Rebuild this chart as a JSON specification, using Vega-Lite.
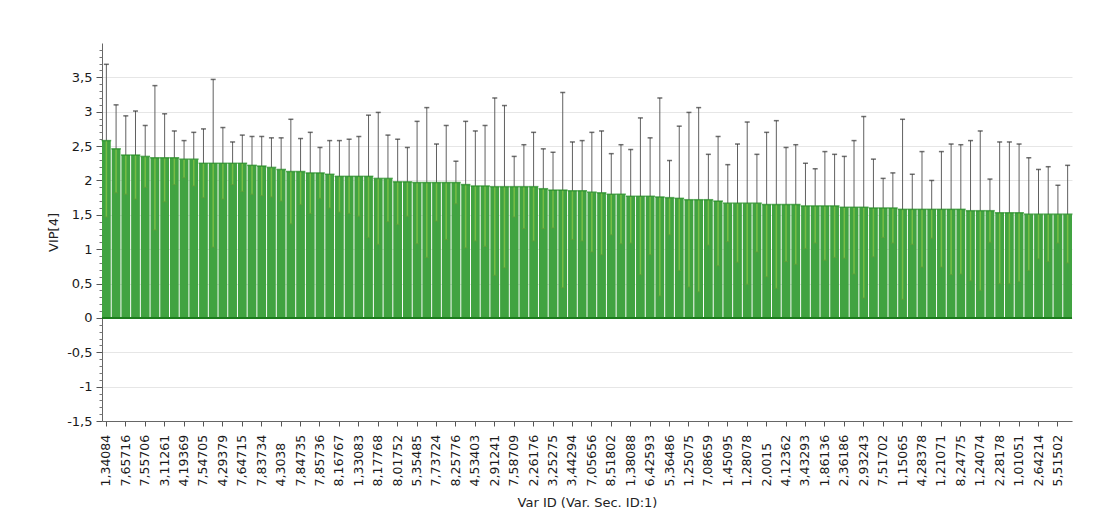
{
  "$schema": "https://vega.github.io/schema/vega-lite/v6.json",
  "width": 970,
  "height": 378,
  "autosize": "none",
  "padding": {"left": 102, "top": 43, "right": 24, "bottom": 107},
  "background": "white",
  "config": {"view": {"stroke": null}, "font": "DejaVu Sans"},
  "resolve": {"axis": {"y": "independent"}},
  "data": {"values": [
    {"id":"1,34084","vip":2.58,"hi":3.69,"lo":1.47},
    {"id":"v002","vip":2.46,"hi":3.10,"lo":1.82},
    {"id":"7,65716","vip":2.37,"hi":2.94,"lo":1.80},
    {"id":"v004","vip":2.37,"hi":3.01,"lo":1.73},
    {"id":"7,55706","vip":2.35,"hi":2.80,"lo":1.90},
    {"id":"v006","vip":2.33,"hi":3.38,"lo":1.28},
    {"id":"3,11261","vip":2.33,"hi":2.97,"lo":1.69},
    {"id":"v008","vip":2.33,"hi":2.72,"lo":1.94},
    {"id":"4,19369","vip":2.31,"hi":2.58,"lo":2.04},
    {"id":"v010","vip":2.31,"hi":2.70,"lo":1.92},
    {"id":"7,54705","vip":2.25,"hi":2.75,"lo":1.75},
    {"id":"v012","vip":2.25,"hi":3.47,"lo":1.03},
    {"id":"4,29379","vip":2.25,"hi":2.77,"lo":1.73},
    {"id":"v014","vip":2.25,"hi":2.56,"lo":1.94},
    {"id":"7,64715","vip":2.25,"hi":2.66,"lo":1.84},
    {"id":"v016","vip":2.22,"hi":2.64,"lo":1.80},
    {"id":"7,83734","vip":2.21,"hi":2.64,"lo":1.78},
    {"id":"v018","vip":2.19,"hi":2.62,"lo":1.76},
    {"id":"4,3038","vip":2.16,"hi":2.62,"lo":1.70},
    {"id":"v020","vip":2.13,"hi":2.89,"lo":1.37},
    {"id":"7,84735","vip":2.13,"hi":2.61,"lo":1.65},
    {"id":"v022","vip":2.11,"hi":2.70,"lo":1.52},
    {"id":"7,85736","vip":2.11,"hi":2.48,"lo":1.74},
    {"id":"v024","vip":2.09,"hi":2.58,"lo":1.60},
    {"id":"8,16767","vip":2.06,"hi":2.58,"lo":1.54},
    {"id":"v026","vip":2.06,"hi":2.60,"lo":1.52},
    {"id":"1,33083","vip":2.06,"hi":2.64,"lo":1.48},
    {"id":"v028","vip":2.06,"hi":2.95,"lo":1.17},
    {"id":"8,17768","vip":2.03,"hi":2.99,"lo":1.07},
    {"id":"v030","vip":2.03,"hi":2.66,"lo":1.40},
    {"id":"8,01752","vip":1.98,"hi":2.60,"lo":1.36},
    {"id":"v032","vip":1.98,"hi":2.48,"lo":1.48},
    {"id":"5,35485","vip":1.97,"hi":2.86,"lo":1.08},
    {"id":"v034","vip":1.97,"hi":3.06,"lo":0.88},
    {"id":"7,73724","vip":1.97,"hi":2.53,"lo":1.41},
    {"id":"v036","vip":1.97,"hi":2.80,"lo":1.14},
    {"id":"8,25776","vip":1.97,"hi":2.28,"lo":1.66},
    {"id":"v038","vip":1.94,"hi":2.86,"lo":1.02},
    {"id":"4,53403","vip":1.92,"hi":2.72,"lo":1.12},
    {"id":"v040","vip":1.92,"hi":2.80,"lo":1.04},
    {"id":"2,91241","vip":1.91,"hi":3.20,"lo":0.62},
    {"id":"v042","vip":1.91,"hi":3.09,"lo":0.73},
    {"id":"7,58709","vip":1.91,"hi":2.35,"lo":1.47},
    {"id":"v044","vip":1.91,"hi":2.52,"lo":1.30},
    {"id":"2,26176","vip":1.91,"hi":2.70,"lo":1.12},
    {"id":"v046","vip":1.88,"hi":2.46,"lo":1.30},
    {"id":"3,25275","vip":1.86,"hi":2.41,"lo":1.31},
    {"id":"v048","vip":1.86,"hi":3.28,"lo":0.44},
    {"id":"3,44294","vip":1.85,"hi":2.56,"lo":1.14},
    {"id":"v050","vip":1.85,"hi":2.58,"lo":1.12},
    {"id":"7,05656","vip":1.83,"hi":2.70,"lo":0.96},
    {"id":"v052","vip":1.82,"hi":2.72,"lo":0.92},
    {"id":"8,51802","vip":1.80,"hi":2.39,"lo":1.21},
    {"id":"v054","vip":1.80,"hi":2.52,"lo":1.08},
    {"id":"1,38088","vip":1.77,"hi":2.45,"lo":1.09},
    {"id":"v056","vip":1.77,"hi":2.91,"lo":0.63},
    {"id":"6,42593","vip":1.77,"hi":2.62,"lo":0.92},
    {"id":"v058","vip":1.76,"hi":3.20,"lo":0.32},
    {"id":"5,36486","vip":1.75,"hi":2.29,"lo":1.21},
    {"id":"v060","vip":1.74,"hi":2.79,"lo":0.69},
    {"id":"1,25075","vip":1.72,"hi":2.99,"lo":0.45},
    {"id":"v062","vip":1.72,"hi":3.06,"lo":0.38},
    {"id":"7,08659","vip":1.72,"hi":2.38,"lo":1.06},
    {"id":"v064","vip":1.70,"hi":2.64,"lo":0.76},
    {"id":"1,45095","vip":1.67,"hi":2.23,"lo":1.11},
    {"id":"v066","vip":1.67,"hi":2.53,"lo":0.81},
    {"id":"1,28078","vip":1.67,"hi":2.85,"lo":0.49},
    {"id":"v068","vip":1.67,"hi":2.38,"lo":0.96},
    {"id":"2,0015","vip":1.65,"hi":2.70,"lo":0.60},
    {"id":"v070","vip":1.65,"hi":2.87,"lo":0.43},
    {"id":"4,12362","vip":1.65,"hi":2.48,"lo":0.82},
    {"id":"v072","vip":1.65,"hi":2.52,"lo":0.78},
    {"id":"3,43293","vip":1.63,"hi":2.25,"lo":1.01},
    {"id":"v074","vip":1.63,"hi":2.17,"lo":1.09},
    {"id":"1,86136","vip":1.63,"hi":2.42,"lo":0.84},
    {"id":"v076","vip":1.63,"hi":2.38,"lo":0.88},
    {"id":"2,36186","vip":1.61,"hi":2.35,"lo":0.87},
    {"id":"v078","vip":1.61,"hi":2.58,"lo":0.64},
    {"id":"2,93243","vip":1.61,"hi":2.93,"lo":0.29},
    {"id":"v080","vip":1.60,"hi":2.31,"lo":0.89},
    {"id":"7,51702","vip":1.60,"hi":2.03,"lo":1.17},
    {"id":"v082","vip":1.60,"hi":2.11,"lo":1.09},
    {"id":"1,15065","vip":1.58,"hi":2.89,"lo":0.27},
    {"id":"v084","vip":1.58,"hi":2.09,"lo":1.07},
    {"id":"4,28378","vip":1.58,"hi":2.42,"lo":0.74},
    {"id":"v086","vip":1.58,"hi":2.00,"lo":1.16},
    {"id":"1,21071","vip":1.58,"hi":2.42,"lo":0.74},
    {"id":"v088","vip":1.58,"hi":2.53,"lo":0.63},
    {"id":"8,24775","vip":1.58,"hi":2.52,"lo":0.64},
    {"id":"v090","vip":1.56,"hi":2.58,"lo":0.54},
    {"id":"1,24074","vip":1.56,"hi":2.72,"lo":0.40},
    {"id":"v092","vip":1.56,"hi":2.02,"lo":1.10},
    {"id":"2,28178","vip":1.53,"hi":2.56,"lo":0.50},
    {"id":"v094","vip":1.53,"hi":2.56,"lo":0.50},
    {"id":"1,01051","vip":1.53,"hi":2.53,"lo":0.53},
    {"id":"v096","vip":1.51,"hi":2.33,"lo":0.69},
    {"id":"2,64214","vip":1.51,"hi":2.16,"lo":0.86},
    {"id":"v098","vip":1.51,"hi":2.20,"lo":0.82},
    {"id":"5,51502","vip":1.51,"hi":1.93,"lo":1.09},
    {"id":"v100","vip":1.51,"hi":2.22,"lo":0.80}
  ]},
  "layer": [
    {
      "mark": {"type": "bar", "color": "#41a341"},
      "encoding": {
        "x": {
          "field": "id", "type": "nominal", "sort": null,
          "scale": {"paddingInner": 0.1, "paddingOuter": 0},
          "axis": {
            "labelExpr": "indexof(datum.label, 'v') === 0 ? '' : datum.label",
            "tickOpacity": {"condition": {"test": "indexof(datum.value, 'v') === 0", "value": 0}, "value": 1},
            "labelAngle": -90, "labelAlign": "left", "labelBaseline": "middle",
            "labelPadding": 60, "tickSize": 5, "labelFontSize": 12.5, "labelColor": "#1a1a1a",
            "labelOverlap": false, "labelFlush": false, "labelBound": false,
            "domainColor": "#666", "tickColor": "#555", "grid": false,
            "title": "Var ID (Var. Sec. ID:1)", "titleFontSize": 13, "titleFontWeight": "normal",
            "titleColor": "#222", "titlePadding": 10
          }
        },
        "y": {
          "field": "vip", "type": "quantitative",
          "scale": {"domain": [-1.5, 4.0], "nice": false, "zero": false},
          "axis": {
            "orient": "left",
            "values": [-1.5, -1, -0.5, 0, 0.5, 1, 1.5, 2, 2.5, 3, 3.5],
            "labelExpr": "replace(datum.value + '', '.', ',')",
            "labelOverlap": false,
            "grid": true, "gridColor": "#e6e6e6", "domainColor": "#666", "tickColor": "#555",
            "tickSize": 6, "labelFontSize": 13, "labelColor": "#1a1a1a", "labelPadding": 4,
            "title": "VIP[4]", "titleFontSize": 13, "titleFontWeight": "normal", "titleColor": "#222",
            "titlePadding": 6
          }
        }
      }
    },
    {
      "mark": {"type": "rule", "color": "#9ccf4a", "opacity": 0.6, "strokeWidth": 1.5},
      "encoding": {
        "x": {"field": "id", "type": "nominal", "sort": null},
        "y": {
          "field": "lo", "type": "quantitative",
          "axis": {
            "orient": "left",
            "values": [-1.4,-1.3,-1.2,-1.1,-0.9,-0.8,-0.7,-0.6,-0.4,-0.3,-0.2,-0.1,0.1,0.2,0.3,0.4,0.6,0.7,0.8,0.9,1.1,1.2,1.3,1.4,1.6,1.7,1.8,1.9,2.1,2.2,2.3,2.4,2.6,2.7,2.8,2.9,3.1,3.2,3.3,3.4,3.6,3.7,3.8,3.9],
            "labels": false, "domain": false, "grid": false, "title": null,
            "tickSize": 3, "tickColor": "#777"
          }
        },
        "y2": {"field": "vip"}
      }
    },
    {
      "mark": {"type": "tick", "color": "#5f9e3a", "size": 4, "thickness": 1.2, "opacity": 0.7},
      "encoding": {
        "x": {"field": "id", "type": "nominal", "sort": null},
        "y": {"field": "lo", "type": "quantitative", "axis": null}
      }
    },
    {
      "mark": {"type": "rule", "color": "#606060", "strokeWidth": 1},
      "encoding": {
        "x": {"field": "id", "type": "nominal", "sort": null},
        "y": {"field": "vip", "type": "quantitative", "axis": null},
        "y2": {"field": "hi"}
      }
    },
    {
      "mark": {"type": "tick", "color": "#333", "size": 5, "thickness": 1.5},
      "encoding": {
        "x": {"field": "id", "type": "nominal", "sort": null},
        "y": {"field": "hi", "type": "quantitative", "axis": null}
      }
    },
    {
      "mark": {"type": "tick", "color": "#228a22", "size": 9.7, "thickness": 1.5},
      "encoding": {
        "x": {"field": "id", "type": "nominal", "sort": null},
        "y": {"field": "vip", "type": "quantitative", "axis": null}
      }
    },
    {
      "mark": {"type": "rule", "color": "#1c7d1c", "strokeWidth": 1.5},
      "encoding": {"y": {"datum": 0, "type": "quantitative", "axis": null}}
    }
  ]
}
